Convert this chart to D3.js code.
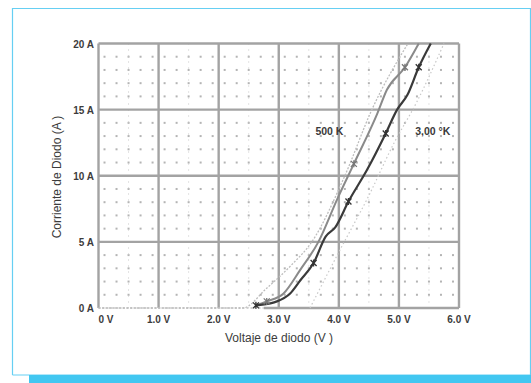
<!DOCTYPE html>
<html><head><meta charset="utf-8">
<script src="https://cdn.jsdelivr.net/npm/d3@7"></script>
<style>body{margin:0;background:#fff}svg{display:block}text{font-family:"Liberation Sans",Arial,sans-serif}</style>
</head><body><svg id="c" width="531" height="383"></svg>
<script>
// ---- data ----
const voltTicks = [0, 1, 2, 3, 4, 5, 6];
const voltLabels = ["0 V", "1.0 V", "2.0 V", "3.0 V", "4.0 V", "5.0 V", "6.0 V"];
const ampTicks = [0, 5, 10, 15, 20];
const ampLabels = ["0 A", "5 A", "10 A", "15 A", "20 A"];

const v300 = [2.62, 2.86, 2.97, 3.19, 3.36, 3.58, 3.78, 3.94, 4.16, 4.47, 4.78, 4.97, 5.14, 5.33, 5.53];
const a300 = [0.2, 0.35, 0.5, 1.1, 2.1, 3.4, 5.4, 6.1, 8.05, 10.45, 13.2, 15.0, 16.1, 18.2, 20];
const m300 = [0, 5, 8, 10, 13];

const v500 = [2.62, 2.8, 3.08, 3.36, 3.66, 3.97, 4.25, 4.64, 4.8, 5.1, 5.33];
const a500 = [0.2, 0.5, 1.1, 2.9, 5.0, 8.2, 10.9, 14.7, 16.5, 18.2, 20];
const m500 = [1, 6, 9];

const vFitA = [0, 2.4, 2.8, 3.2, 3.55, 4.1, 4.55, 5.15];
const aFitA = [0, 0, 1.5, 3.2, 5, 10, 15, 20];
const vFitB = [3.52, 4.02, 4.5, 4.91, 5.3, 5.75];
const aFitB = [0, 4.4, 8.5, 12.4, 15.6, 20];

const curveLabels = ["500 K", "3,00 °K"];
const labelV = [3.61, 5.27];
const labelA = [13.05, 13.05];

// ---- drawing ----
const svg = d3.select("#c");
const x = d3.scaleLinear().domain([0, 6]).range([98.5, 459]);
const y = d3.scaleLinear().domain([0, 20]).range([308, 43.5]);

// outer frame
svg.append("path").attr("d", "M12.5,375 V8.5 H530.5 V375 H12.5")
  .attr("fill", "none").attr("stroke", "#66cff3").attr("stroke-width", 1.2);
svg.append("rect").attr("x", 29).attr("y", 375).attr("width", 502).attr("height", 8).attr("fill", "#42c7f1");

// minor marks
const minorV = [];
for (let i = 0; i < 6; i++) [0.1, 0.3, 0.5, 0.7, 0.9].forEach(f => minorV.push(i + f));
const minorA = [];
for (let j = 0; j < 20; j++) if (j % 5 !== 0) minorA.push(j);
const pts = [];
minorV.forEach(v => minorA.forEach(a => pts.push([v, a])));
svg.append("g").selectAll("rect").data(pts).join("rect")
  .attr("x", d => x(d[0]) - 1).attr("y", d => y(d[1]) - 1)
  .attr("width", 2).attr("height", 2).attr("fill", "#b4b4b4");
// faint center dashes
const midV = d3.range(0, 6).map(i => i + 0.5);
svg.append("g").selectAll("line").data(midV).join("line")
  .attr("x1", d => x(d)).attr("x2", d => x(d)).attr("y1", y(20)).attr("y2", y(0))
  .attr("stroke", "#c8c8c8").attr("stroke-width", 1).attr("stroke-dasharray", "1,5");

// grid
const grid = svg.append("g").attr("stroke", "#a3a3a3").attr("stroke-width", 2.4);
voltTicks.forEach(v => grid.append("line").attr("x1", x(v)).attr("x2", x(v)).attr("y1", y(20)).attr("y2", y(0)));
ampTicks.filter(a => a > 0).forEach(a => grid.append("line").attr("x1", x(0)).attr("x2", x(6)).attr("y1", y(a)).attr("y2", y(a)));
grid.append("line").attr("x1", x(2.75)).attr("x2", x(6)).attr("y1", y(0)).attr("y2", y(0));
svg.append("line").attr("x1", x(0)).attr("x2", x(2.75)).attr("y1", y(0)).attr("y2", y(0))
  .attr("stroke", "#c4c4c4").attr("stroke-width", 1.5).attr("stroke-dasharray", "2,2");

// curves
const line = d3.line().x(d => x(d[0])).y(d => y(d[1])).curve(d3.curveMonotoneX);
const zip = (a, b) => a.map((v, i) => [v, b[i]]);
svg.append("path").attr("d", line(zip(vFitA, aFitA))).attr("fill", "none")
  .attr("stroke", "#bdbdbd").attr("stroke-width", 1.3).attr("stroke-dasharray", "2,1.5");
svg.append("path").attr("d", line(zip(vFitB, aFitB))).attr("fill", "none")
  .attr("stroke", "#c8c8c8").attr("stroke-width", 1.2).attr("stroke-dasharray", "1.5,2.5");
svg.append("path").attr("d", line(zip(v500, a500))).attr("fill", "none")
  .attr("stroke", "#8a8a8a").attr("stroke-width", 2);
svg.append("path").attr("d", line(zip(v300, a300))).attr("fill", "none")
  .attr("stroke", "#3a3a3a").attr("stroke-width", 2.2);

// markers
const mk = (vs, as, idx, col) => svg.append("g").selectAll("path").data(idx).join("path")
  .attr("d", i => { const cx = x(vs[i]), cy = y(as[i]); return `M${cx-3},${cy-3}L${cx+3},${cy+3}M${cx-3},${cy+3}L${cx+3},${cy-3}M${cx},${cy-3.5}V${cy+3.5}`; })
  .attr("stroke", col).attr("stroke-width", 1.3);
mk(v500, a500, m500, "#777");
mk(v300, a300, m300, "#333");

// curve labels
svg.append("g").selectAll("text").data(curveLabels).join("text")
  .attr("x", (d, i) => x(labelV[i])).attr("y", (d, i) => y(labelA[i]))
  .attr("font-size", 10.5).attr("font-weight", "bold").attr("fill", "#3a3a3a").text(d => d);

// tick labels
svg.append("g").selectAll("text").data(ampTicks).join("text")
  .attr("x", 94).attr("y", d => y(d) + 4).attr("text-anchor", "end")
  .attr("font-size", 10).attr("font-weight", "bold").attr("fill", "#3c3c3c")
  .text((d, i) => ampLabels[i]);
svg.append("g").selectAll("text").data(voltTicks).join("text")
  .attr("x", d => d === 0 ? x(d) : x(d)).attr("y", 322.5)
  .attr("text-anchor", d => d === 0 ? "start" : "middle")
  .attr("font-size", 10).attr("font-weight", "bold").attr("fill", "#3c3c3c")
  .text((d, i) => voltLabels[i]);

// axis titles
svg.append("text").attr("x", 279).attr("y", 341.5).attr("text-anchor", "middle")
  .attr("font-size", 12).attr("fill", "#3c3c3c").text("Voltaje de diodo (V )");
svg.append("text").attr("transform", "translate(61,177) rotate(-90)").attr("text-anchor", "middle")
  .attr("font-size", 12).attr("fill", "#3c3c3c").text("Corriente de Diodo (A )");
</script></body></html>
